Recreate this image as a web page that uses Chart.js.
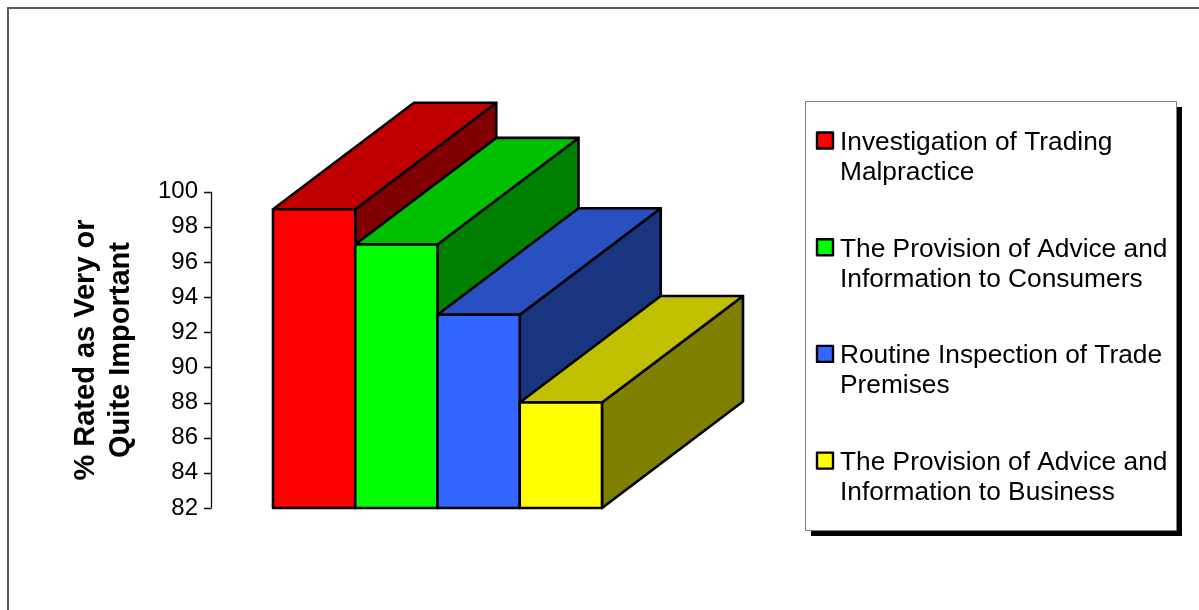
<!DOCTYPE html>
<html>
<head>
<meta charset="utf-8">
<script src="https://cdn.jsdelivr.net/npm/chart.js@4.4.1/dist/chart.umd.min.js"></script>
<style>
  html, body { margin: 0; padding: 0; background: #fff; }
  #wrap { width: 1199px; height: 610px; position: relative; }
</style>
</head>
<body>
<div id="wrap"><canvas id="c" width="1199" height="610"></canvas></div>
<script>
// ---- data ----
const categories = [
  ["Investigation of Trading", "Malpractice"],
  ["The Provision of Advice and", "Information to Consumers"],
  ["Routine Inspection of Trade", "Premises"],
  ["The Provision of Advice and", "Information to Business"]
];
const values = [99, 97, 93, 88];
const yTickMin = 82;
const yTickMax = 100;
const yTickStep = 2;
const yTitle = ["% Rated as Very or", "Quite Important"];
const frontColors = ["#FF0000", "#00FF00", "#3366FF", "#FFFF00"];
const topColors   = ["#C00000", "#00C000", "#2850C0", "#C0C000"];
const sideColors  = ["#800000", "#008000", "#1A3580", "#808000"];

// ---- 3D style ----
const DEPTH_X = 141, DEPTH_Y = -106.5;
const FONT = "'Liberation Sans', Arial, sans-serif";

function poly(ctx, pts, fill) {
  ctx.beginPath();
  ctx.moveTo(pts[0][0], pts[0][1]);
  for (let i = 1; i < pts.length; i++) ctx.lineTo(pts[i][0], pts[i][1]);
  ctx.closePath();
  ctx.fillStyle = fill;
  ctx.fill();
  ctx.stroke();
}

const threeD = {
  id: 'threeD',
  beforeDatasetDraw() { return false; },
  beforeDraw(chart) {
    const ctx = chart.ctx;
    ctx.save();
    ctx.fillStyle = '#fff';
    ctx.fillRect(0, 0, chart.width, chart.height);
    // outer frame
    ctx.strokeStyle = '#5a5a5a';
    ctx.lineWidth = 2;
    ctx.beginPath();
    ctx.moveTo(8, chart.height + 5);
    ctx.lineTo(8, 8);
    ctx.lineTo(chart.width + 5, 8);
    ctx.stroke();
    ctx.restore();
  },
  afterDatasetsDraw(chart) {
    const ctx = chart.ctx;
    const y = chart.scales.y;
    ctx.save();
    // y axis line + ticks
    const axX = 211.5;
    ctx.strokeStyle = '#111';
    ctx.lineWidth = 1.3;
    ctx.beginPath();
    ctx.moveTo(axX, y.getPixelForValue(yTickMax));
    ctx.lineTo(axX, y.getPixelForValue(yTickMin));
    for (let v = yTickMin; v <= yTickMax; v += yTickStep) {
      const py = Math.round(y.getPixelForValue(v)) + 0.5;
      ctx.moveTo(204, py);
      ctx.lineTo(axX, py);
    }
    ctx.stroke();

    // y title (rotated)
    ctx.fillStyle = '#000';
    ctx.font = "bold 29px " + FONT;
    ctx.textAlign = 'center';
    ctx.textBaseline = 'alphabetic';
    const baseXs = [94, 129];
    yTitle.forEach((t, i) => {
      ctx.save();
      ctx.translate(baseXs[i], 350);
      ctx.rotate(-Math.PI / 2);
      ctx.fillText(t, 0, 0);
      ctx.restore();
    });

    // 3D bars
    const meta = chart.getDatasetMeta(0);
    ctx.strokeStyle = '#000';
    ctx.lineWidth = 2.6;
    ctx.lineJoin = 'round';
    meta.data.forEach((bar, i) => {
      const p = bar.getProps(['x', 'y', 'base', 'width'], true);
      const l = p.x - p.width / 2, r = p.x + p.width / 2;
      const t = p.y, b = p.base;
      const dx = DEPTH_X, dy = DEPTH_Y;
      poly(ctx, [[r, t], [r + dx, t + dy], [r + dx, b + dy], [r, b]], sideColors[i]);
      poly(ctx, [[l, t], [l + dx, t + dy], [r + dx, t + dy], [r, t]], topColors[i]);
      poly(ctx, [[l, t], [r, t], [r, b], [l, b]], frontColors[i]);
    });

    // legend
    const bx = 805.5, by = 101.5, bw = 371, bh = 429;
    ctx.fillStyle = '#000';
    ctx.fillRect(bx + 5.5, by + 5.5, bw, bh);
    ctx.fillStyle = '#fff';
    ctx.fillRect(bx, by, bw, bh);
    ctx.strokeStyle = '#808080';
    ctx.lineWidth = 1;
    ctx.strokeRect(bx, by, bw, bh);

    ctx.font = "26.3px " + FONT;
    ctx.textAlign = 'left';
    ctx.textBaseline = 'alphabetic';
    categories.forEach((lines, i) => {
      const base = 150 + i * 106.7;
      ctx.fillStyle = frontColors[i];
      ctx.fillRect(817, base - 17.5, 16, 16);
      ctx.strokeStyle = '#000';
      ctx.lineWidth = 2.4;
      ctx.strokeRect(817, base - 17.5, 16, 16);
      ctx.fillStyle = '#000';
      lines.forEach((ln, j) => ctx.fillText(ln, 840, base + j * 30));
    });
    ctx.restore();
  }
};

new Chart(document.getElementById('c'), {
  type: 'bar',
  data: {
    labels: categories,
    datasets: [{
      data: values,
      base: yTickMin,
      backgroundColor: frontColors,
      borderColor: '#000',
      borderWidth: 2,
      barPercentage: 1,
      categoryPercentage: 1
    }]
  },
  options: {
    responsive: false,
    animation: false,
    devicePixelRatio: 1,
    layout: { padding: { top: 191.7, bottom: 102, left: 0, right: 597 } },
    plugins: { legend: { display: false }, tooltip: { enabled: false } },
    scales: {
      x: { display: false },
      y: {
        min: yTickMin,
        max: yTickMax,
        afterFit: s => { s.width = 273; },
        grid: { display: false, drawTicks: false },
        border: { display: false },
        ticks: {
          stepSize: yTickStep,
          padding: 75,
          color: '#000',
          font: { family: FONT, size: 24 }
        }
      }
    }
  },
  plugins: [threeD]
});
</script>
</body>
</html>
